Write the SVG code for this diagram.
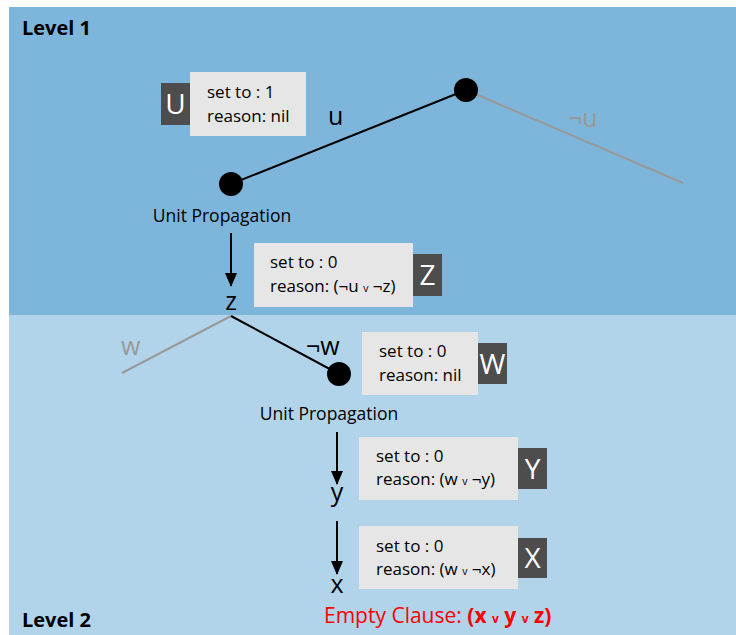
<svg xmlns="http://www.w3.org/2000/svg" width="736" height="635" viewBox="0 0 736 635">
<defs>
<style>
text{font-family:"Open Sans","Liberation Sans",sans-serif;}
.lvl{font-size:20px;font-weight:bold;fill:#000;}
.info{fill:#e6e6e6;}
.tag{fill:#4d4d4d;}
.tagt{fill:#fff;font-size:28px;text-anchor:middle;}
.t{font-size:17px;fill:#000;}
.sm{font-size:10.5px;}
.lbl{font-size:25px;fill:#000;}
.glbl{font-size:25px;fill:#999;}
.up{font-size:17.5px;fill:#000;}
.node{fill:#000;}
.e{stroke:#000;stroke-width:2;fill:none;}
.ge{stroke:#999;stroke-width:2;fill:none;}
.arr{stroke:#000;stroke-width:2;fill:none;marker-end:url(#ah);}
.red{fill:#ff0000;font-size:21px;}
</style>
<marker id="ah" viewBox="0 0 14 12" refX="13" refY="6" markerWidth="7" markerHeight="6" orient="auto" markerUnits="strokeWidth">
<path d="M0,0 L14,6 L0,12 z" fill="#000"/>
</marker>
</defs>
<rect x="9" y="7" width="727" height="308" fill="#7eb6db"/>
<rect x="9" y="315" width="727" height="320" fill="#b1d4ea"/>
<text class="lvl" x="22" y="35">Level 1</text>
<text class="lvl" x="22" y="627">Level 2</text>
<g id="connectors">
<line class="e" x1="231" y1="184" x2="466" y2="90"/>
<line class="ge" x1="466" y1="90" x2="683" y2="183"/>
<line class="arr" x1="231" y1="233" x2="231" y2="286"/>
<line class="ge" x1="231" y1="316" x2="122" y2="373"/>
<line class="e" x1="231" y1="316" x2="339" y2="374"/>
<line class="arr" x1="337" y1="432" x2="337" y2="484"/>
<line class="arr" x1="337" y1="521" x2="337" y2="574"/>
<text class="lbl" x="328" y="125">u</text>
<text class="glbl" x="568" y="127">¬u</text>
<text class="glbl" x="121" y="355">w</text>
<text class="lbl" x="306" y="355">¬w</text>
</g>
<g id="node-u">
<circle class="node" cx="466" cy="90" r="12"/>
</g>
<g id="node-up1">
<circle class="node" cx="231" cy="184" r="12"/>
<text class="up" x="222" y="222" text-anchor="middle">Unit Propagation</text>
</g>
<g id="info-U">
<rect class="info" x="190" y="72" width="116" height="64"/>
<rect class="tag" x="161" y="83" width="29" height="42"/>
<text class="tagt" x="175.5" y="114">U</text>
<text class="t" x="207" y="98">set to : 1</text>
<text class="t" x="207" y="122">reason: nil</text>
</g>
<g id="node-z">
<text class="lbl" x="231" y="310" text-anchor="middle">z</text>
</g>
<g id="info-Z">
<rect class="info" x="254" y="243" width="159" height="64"/>
<rect class="tag" x="413" y="254" width="29" height="42"/>
<text class="tagt" x="427.5" y="285">Z</text>
<text class="t" x="270" y="268">set to : 0</text>
<text class="t" x="270" y="292">reason: (¬u <tspan class="sm">v</tspan> ¬z)</text>
</g>
<g id="node-w">
<circle class="node" cx="339" cy="374" r="12"/>
<text class="up" x="329" y="420" text-anchor="middle">Unit Propagation</text>
</g>
<g id="info-W">
<rect class="info" x="362" y="332" width="116" height="63"/>
<rect class="tag" x="478" y="343" width="29" height="41"/>
<text class="tagt" x="492.5" y="374">W</text>
<text class="t" x="379" y="357">set to : 0</text>
<text class="t" x="379" y="381">reason: nil</text>
</g>
<g id="node-y">
<text class="lbl" x="337" y="501" text-anchor="middle">y</text>
</g>
<g id="info-Y">
<rect class="info" x="359" y="437" width="159" height="63"/>
<rect class="tag" x="518" y="448" width="29" height="41"/>
<text class="tagt" x="532.5" y="479">Y</text>
<text class="t" x="376" y="462">set to : 0</text>
<text class="t" x="376" y="485">reason: (w <tspan class="sm">v</tspan> ¬y)</text>
</g>
<g id="node-x">
<text class="lbl" x="337" y="593" text-anchor="middle">x</text>
</g>
<g id="info-X">
<rect class="info" x="359" y="526" width="159" height="63"/>
<rect class="tag" x="518" y="538" width="29" height="40"/>
<text class="tagt" x="532.5" y="568">X</text>
<text class="t" x="376" y="552">set to : 0</text>
<text class="t" x="376" y="575">reason: (w <tspan class="sm">v</tspan> ¬x)</text>
</g>
<g id="empty-clause">
<text class="red" x="324" y="623">Empty Clause: <tspan font-weight="bold">(x <tspan font-size="12px">v</tspan> y <tspan font-size="12px">v</tspan> z)</tspan></text>
</g>
</svg>
